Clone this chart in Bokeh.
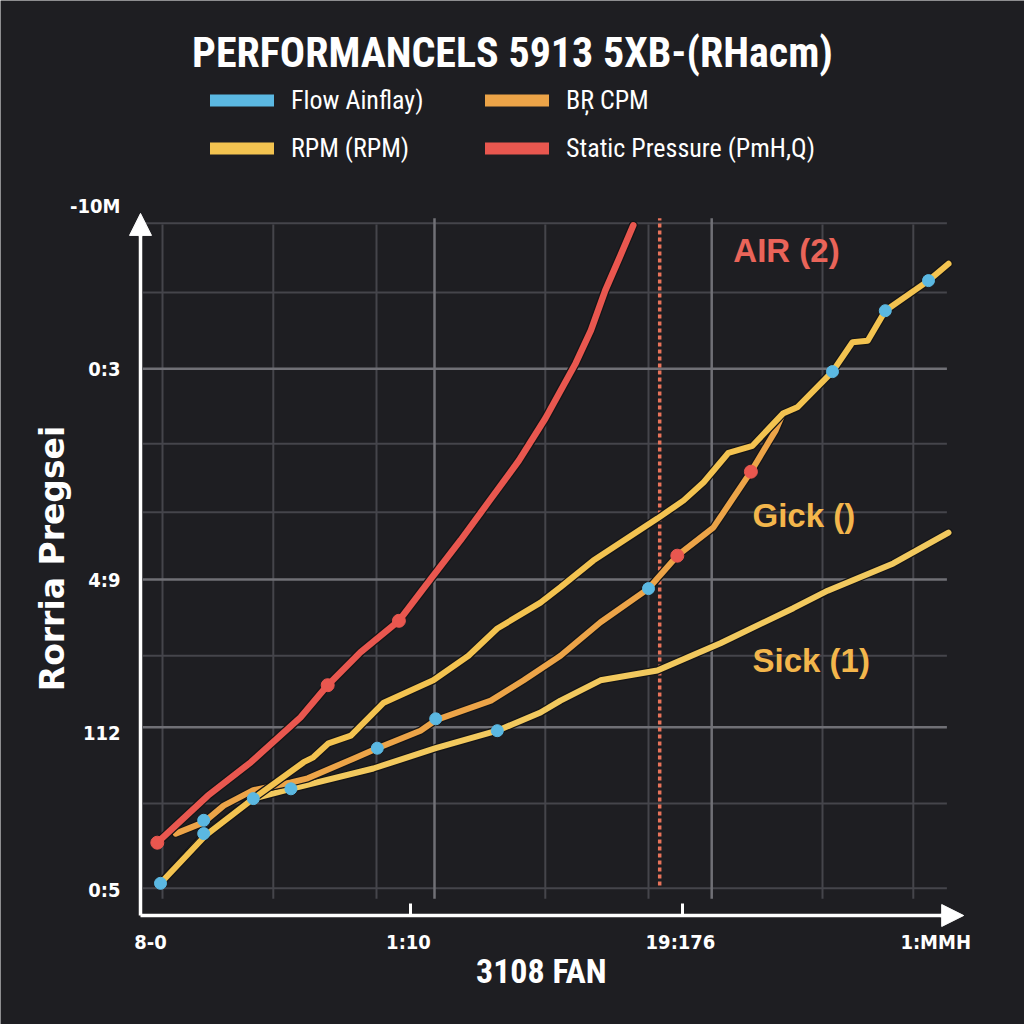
import math
from bokeh.plotting import figure
from bokeh.models import (Range1d, LinearAxis, FixedTicker, Arrow, NormalHead,
                          Label, Legend, LegendItem, ColumnDataSource)
from bokeh.embed import file_html
from bokeh.resources import INLINE

# ---------------- data (chart units) ----------------
pressure_x = [2.1, 8.4, 13.8, 20.0, 23.4, 27.5, 32.3, 36.3, 40.0, 43.4, 47.3, 50.6, 54.4, 56.3, 58.1, 60.0, 61.6]
pressure_y = [10.4, 17.1, 21.9, 28.3, 32.9, 37.6, 42.1, 48.1, 53.6, 58.9, 65.0, 71.0, 78.9, 83.6, 89.3, 94.3, 98.6]

rpm_x = [2.5, 8.1, 14.1, 20.4, 21.6, 23.5, 26.3, 30.4, 36.6, 41.0, 44.6, 50.0, 52.5, 56.6, 64.6, 67.9, 70.4,
         73.5, 76.5, 80.3, 82.1, 86.5, 89.0, 90.9, 93.1, 98.5, 101.0]
rpm_y = [4.6, 11.4, 16.7, 21.9, 22.6, 24.6, 25.7, 30.4, 33.6, 37.1, 41.0, 44.7, 46.9, 50.7, 56.7, 59.3, 61.9,
         66.1, 67.1, 71.7, 72.6, 77.7, 81.9, 82.1, 86.4, 90.7, 93.1]

cpm_x = [4.4, 7.9, 10.4, 14.1, 18.8, 20.9, 26.6, 29.6, 35.0, 36.9, 43.8, 47.9, 52.5, 57.5, 63.5, 67.1, 71.6, 76.3, 79.4, 80.3]
cpm_y = [11.7, 13.3, 15.7, 17.9, 19.0, 19.6, 22.4, 23.9, 26.4, 27.9, 30.7, 33.6, 37.1, 41.9, 46.7, 51.4, 55.4, 63.4, 69.3, 71.7]

rpm_low_x = [2.5, 7.9, 14.1, 18.8, 29.1, 36.9, 44.6, 50.0, 52.5, 57.5, 64.6, 72.5, 81.6, 85.9, 94.1, 101.0]
rpm_low_y = [4.6, 11.4, 16.7, 18.1, 21.0, 23.9, 26.4, 29.0, 30.7, 33.6, 35.0, 38.9, 43.9, 46.4, 50.3, 54.7]

flow_x = [2.5, 7.9, 7.9, 14.1, 18.8, 29.6, 36.9, 44.6, 63.5, 86.5, 93.1, 98.5]
flow_y = [4.6, 13.6, 11.7, 16.7, 18.1, 23.9, 28.1, 26.4, 46.7, 77.7, 86.4, 90.7]

pressure_pts_x = [2.1, 23.4, 32.3, 67.1, 76.3]
pressure_pts_y = [10.4, 32.9, 42.1, 51.4, 63.4]

ref_line_x = [64.9]
ref_line_y0 = [4.3]
ref_line_y1 = [99.6]

y_ticks = [101.4, 78.1, 48.0, 26.1, 3.6]
y_tick_labels = ["-10M", "0:3", "4:9", "112", "0:5"]
x_ticks = [1.25, 33.5, 67.5, 99.4]
x_tick_labels = ["8-0", "1:10", "19:176", "1:MMH"]
x_tick_marks = [33.75, 67.75]

grid_x_minor = [2.75, 16.6, 29.5, 50.6, 63.5, 85.25, 96.6]
grid_x_major = [36.75, 71.4]
grid_y_minor = [98.9, 89.0, 67.4, 57.6, 37.1, 16.0, 3.9]
grid_y_major = [78.1, 48.0, 26.9]

title_text = "PERFORMANCELS 5913 5XB-(RHacm)"
legend_labels = ["Flow Ainflay)", "RPM (RPM)", "BR\u0327 CPM", "Static Pressure (PmH,Q)"]
x_label = "3108 FAN"
y_label = "Rorria Pregsei"

ann_text = ["AIR (2)", "Gick ()", "Sick (1)"]
ann_x = [74.1, 76.5, 76.5]
ann_y = [95.0, 57.1, 36.4]

# ---------------- styles ----------------
BG = "#1e1e22"
RED = "#e9574f"
YEL = "#f3c350"
YEL2 = "#f2c95e"
ORG = "#eca448"
BLUE = "#5bb8e2"
NARROW = "Liberation Sans Narrow, Roboto Condensed, DejaVu Sans Condensed, sans-serif"
BOLD = "Liberation Sans, Arial, sans-serif"
GRID_MINOR = "#45454b"
GRID_MAJOR = "#707076"

p = figure(width=1024, height=1024, output_backend="svg", toolbar_location=None,
           x_range=Range1d(-17.5, 110.5), y_range=Range1d(-15.571, 130.714),
           x_axis_location=None, y_axis_location=None,
           min_border_left=0, min_border_right=0, min_border_top=0, min_border_bottom=0)
p.background_fill_color = BG
p.border_fill_color = BG
p.outline_line_color = None
p.xgrid.visible = False
p.ygrid.visible = False

# grid lines (bounded to the plotting area)
p.segment(x0=grid_x_minor, x1=grid_x_minor, y0=[2.4] * len(grid_x_minor), y1=[98.7] * len(grid_x_minor),
          line_color=GRID_MINOR, line_width=2)
p.segment(x0=[0.3] * len(grid_y_minor), x1=[100.8] * len(grid_y_minor),
          y0=grid_y_minor, y1=grid_y_minor, line_color=GRID_MINOR, line_width=2)
p.segment(x0=grid_x_major, x1=grid_x_major, y0=[2.4] * len(grid_x_major), y1=[99.6] * len(grid_x_major),
          line_color=GRID_MAJOR, line_width=2.5)
p.segment(x0=[0.3] * len(grid_y_major), x1=[100.8] * len(grid_y_major),
          y0=grid_y_major, y1=grid_y_major, line_color=GRID_MAJOR, line_width=2.5)

# axes (fixed inside the frame)
yax = LinearAxis(ticker=FixedTicker(ticks=y_ticks), bounds=(0, 99.5), fixed_location=0,
                 major_label_overrides={t: l for t, l in zip(y_ticks, y_tick_labels)})
yax.axis_line_color = "white"
yax.axis_line_width = 3.5
yax.major_tick_line_color = None
yax.minor_tick_line_color = None
yax.major_label_text_color = "white"
yax.major_label_text_font = "DejaVu Sans Condensed"
yax.major_label_text_font_style = "bold"
yax.major_label_text_font_size = "20px"
yax.major_label_standoff = 14
p.add_layout(yax, "left")

xax = LinearAxis(ticker=FixedTicker(ticks=x_ticks, minor_ticks=x_tick_marks), bounds=(0, 102.2),
                 fixed_location=0,
                 major_label_overrides={t: l for t, l in zip(x_ticks, x_tick_labels)})
xax.axis_line_color = "white"
xax.axis_line_width = 3.5
xax.major_tick_line_color = None
xax.minor_tick_line_color = "white"
xax.minor_tick_line_width = 3
xax.minor_tick_in = 12
xax.minor_tick_out = 0
xax.major_label_text_color = "white"
xax.major_label_text_font = "DejaVu Sans Condensed"
xax.major_label_text_font_style = "bold"
xax.major_label_text_font_size = "20px"
xax.major_label_standoff = 8
p.add_layout(xax, "below")

p.add_layout(Arrow(end=NormalHead(size=22, fill_color="white", line_color="white"),
                   x_start=0, y_start=97, x_end=0, y_end=100.3,
                   line_color="white", line_width=3.5))
p.add_layout(Arrow(end=NormalHead(size=22, fill_color="white", line_color="white"),
                   x_start=100, y_start=0, x_end=102.9, y_end=0,
                   line_color="white", line_width=3.5))

# reference dashed line
p.segment(x0=ref_line_x, y0=ref_line_y0, x1=ref_line_x, y1=ref_line_y1,
          line_color="#e8735a", line_width=3.5, line_dash="4 3")

# series lines (dark edge + colour)
def draw(xs, ys, col, w=6):
    p.line(xs, ys, line_color="#151517", line_width=w + 2.5, line_join="round", line_cap="round")
    return p.line(xs, ys, line_color=col, line_width=w, line_join="round", line_cap="round")

draw(rpm_low_x, rpm_low_y, YEL2)
draw(cpm_x, cpm_y, ORG)
draw(rpm_x, rpm_y, YEL)
draw(pressure_x, pressure_y, RED, 6.5)

p.scatter(pressure_pts_x, pressure_pts_y, size=13, fill_color=RED, line_color=RED)
p.scatter(flow_x, flow_y, size=12, fill_color=BLUE, line_color=BLUE)

# legend (line renderers without visible points carry the legend swatches)
lg_cols = [BLUE, YEL, ORG, RED]
lg_r = [p.line(x="x", y="y", source=ColumnDataSource(dict(x=[float("nan")], y=[float("nan")])),
               line_color=c, line_width=12, line_cap="round") for c in lg_cols]

def mk_legend(items, xloc):
    lg = Legend(items=items, location=(xloc, 861), orientation="vertical",
                glyph_width=64, glyph_height=24, label_height=30, spacing=18,
                label_standoff=17, padding=0, margin=0,
                background_fill_alpha=0, border_line_color=None,
                label_text_color="white", label_text_font=NARROW, label_text_font_size="26px")
    p.add_layout(lg, "center")

mk_legend([LegendItem(label=legend_labels[0], renderers=[lg_r[0]]),
           LegendItem(label=legend_labels[1], renderers=[lg_r[1]])], 210)
mk_legend([LegendItem(label=legend_labels[2], renderers=[lg_r[2]]),
           LegendItem(label=legend_labels[3], renderers=[lg_r[3]])], 485)

# texts
p.add_layout(Label(x=46.5, y=123.3, text=title_text,
                   text_align="center", text_baseline="middle", text_color="white",
                   text_font=NARROW, text_font_style="bold", text_font_size="42px"))
p.add_layout(Label(x=50.1, y=-7.86, text=x_label,
                   text_align="center", text_baseline="middle", text_color="white",
                   text_font=NARROW, text_font_style="bold", text_font_size="34px"))
p.add_layout(Label(x=-11.0, y=51.0, text=y_label, angle=math.pi / 2,
                   text_align="center", text_baseline="middle", text_color="white",
                   text_font="DejaVu Sans", text_font_style="bold", text_font_size="33px"))

ann_col = ["#ea6459", "#f3b64c", "#f3b64c"]
for t, ax_, ay_, c in zip(ann_text, ann_x, ann_y, ann_col):
    p.add_layout(Label(x=ax_, y=ay_, text=t, text_align="left", text_baseline="middle",
                       text_color=c, text_font=BOLD, text_font_style="bold", text_font_size="33px"))

open("out.html", "w").write(file_html(p, INLINE))
